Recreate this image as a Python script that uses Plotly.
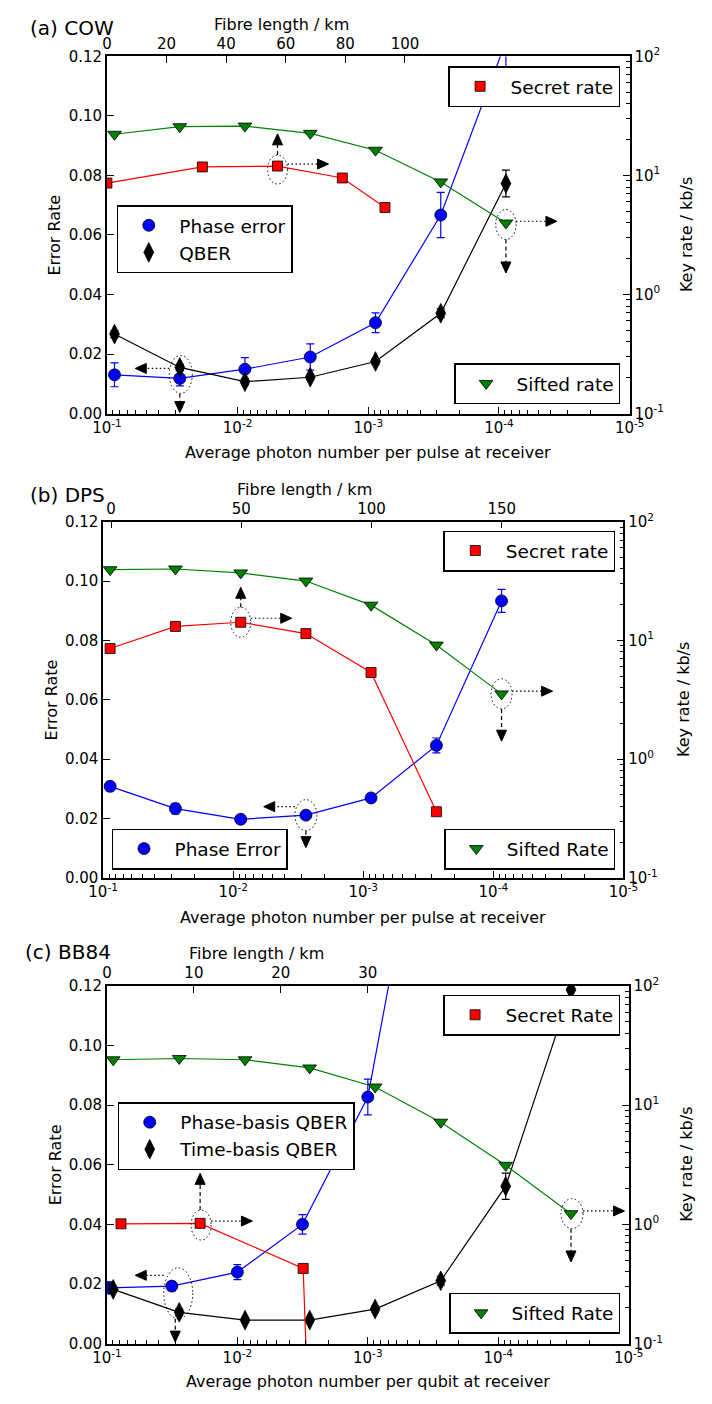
import math
import plotly.graph_objects as go

# page is 712x1404 with the browser's 8px body margin -> figure is 696x1388
PAGE_MARGIN = 8
W, H = 712 - 2 * PAGE_MARGIN, 1404 - 2 * PAGE_MARGIN
FONT = "DejaVu Sans"

# ---------------- data: (a) COW ----------------
cow_mu = [0.0875, 0.0277, 0.00879, 0.00278, 0.000881, 0.000279, 0.0000885]
cow_phase = [0.0130, 0.0118, 0.0149, 0.0190, 0.0305, 0.0667, 0.125]
cow_phase_err = [0.0040, 0.0025, 0.0039, 0.0044, 0.0033, 0.0076, 0.0100]
cow_qber = [0.0267, 0.0155, 0.0107, 0.0122, 0.0175, 0.0337, 0.0773]
cow_qber_err = [0.0012, 0.0010, 0.0010, 0.0010, 0.0010, 0.0015, 0.0045]
cow_sifted = [22.2, 25.7, 26.0, 22.6, 16.3, 8.83, 3.99]
cow_secret_mu = [0.1, 0.0186, 0.00495, 0.00158, 0.000745]
cow_secret = [8.63, 11.8, 12.0, 9.53, 5.38]

# ---------------- data: (b) DPS ----------------
dps_mu = [0.0883, 0.0278, 0.00875, 0.00276, 0.000871, 0.000274, 0.0000865]
dps_phase = [0.0308, 0.0233, 0.0197, 0.0211, 0.0269, 0.0446, 0.0933]
dps_phase_err = [0.0015, 0.0018, 0.0013, 0.0012, 0.0013, 0.0025, 0.0039]
dps_sifted = [39.4, 39.9, 37.0, 31.6, 19.8, 9.12, 3.54]
dps_secret_mu = [0.0883, 0.0278, 0.00875, 0.00276, 0.000871, 0.000274]
dps_secret = [8.53, 13.1, 14.2, 11.4, 5.36, 0.36]

# ---------------- data: (c) BB84 ----------------
bb_phase_mu = [0.0955, 0.0318, 0.0100, 0.00317, 0.00100, 0.000316]
bb_phase = [0.0187, 0.0193, 0.0240, 0.0400, 0.0827, 0.200]
bb_phase_err = [0.0020, 0.0015, 0.0025, 0.0033, 0.0060, 0.0100]
bb_mu = [0.0895, 0.0279, 0.00873, 0.00279, 0.000879, 0.000276, 0.0000877, 0.0000277]
bb_time = [0.0182, 0.0105, 0.0079, 0.0079, 0.0116, 0.0211, 0.0528, 0.1187]
bb_time_err = [0.0010, 0.0012, 0.0008, 0.0008, 0.0010, 0.0015, 0.0044, 0.0050]
bb_sifted = [24.0, 24.6, 24.0, 20.5, 14.2, 7.19, 3.13, 1.23]
bb_secret_mu = [0.078, 0.0193, 0.00313, 0.00257]
bb_secret = [1.01, 1.02, 0.427, 0.001]

# tick labels
x_tickvals = [1e-1, 1e-2, 1e-3, 1e-4, 1e-5]
x_ticktext = ["10<sup>-1</sup>", "10<sup>-2</sup>", "10<sup>-3</sup>", "10<sup>-4</sup>", "10<sup>-5</sup>"]
r_tickvals = [0.1, 1, 10, 100]
r_ticktext = ["10<sup>-1</sup>", "10<sup>0</sup>", "10<sup>1</sup>", "10<sup>2</sup>"]
l_tickvals = [0.0, 0.02, 0.04, 0.06, 0.08, 0.10, 0.12]
l_ticktext = ["0.00", "0.02", "0.04", "0.06", "0.08", "0.10", "0.12"]
x_minor = [k * 10.0 ** n for n in range(-5, -1) for k in range(2, 10)]
r_minor = [k * 10.0 ** n for n in range(-1, 2) for k in range(2, 10)]

X_LOG_RANGE = [-1, -5]     # bottom axis (log10 of photon number), reversed
R_LOG_RANGE = [-1, 2]      # right axis (log10 kb/s)
L_RANGE = [0, 0.12]        # left axis


def PX(x):  # page px -> paper fraction
    return (x - PAGE_MARGIN) / W


def PY(y):
    return 1 - (y - PAGE_MARGIN) / H


panels = [
    dict(box=(95.7, 642.0, 46.0, 408.3), km_range=[0, 175.4], km_ticks=[0, 20, 40, 60, 80, 100],
         title="(a) COW", title_pos=(13.6, 17), km_title_pos=(278, 14),
         xlabel="Average photon number per pulse at receiver", xlabel_y=448,
         ylabel_x=41, rlabel_x=702),
    dict(box=(91.7, 635.5, 518.0, 879.3), km_range=[-3.05, 196.7], km_ticks=[0, 50, 100, 150],
         title="(b) DPS", title_pos=(13.6, 491), km_title_pos=(302, 485),
         xlabel="Average photon number per pulse at receiver", xlabel_y=920,
         ylabel_x=38, rlabel_x=698),
    dict(box=(95.7, 641.0, 989.0, 1352.0), km_range=[0, 60.0], km_ticks=[0, 10, 20, 30],
         title="(c) BB84", title_pos=(8, 955), km_title_pos=(252, 956),
         xlabel="Average photon number per qubit at receiver", xlabel_y=1390,
         ylabel_x=42, rlabel_x=702),
]


def names(i):
    b = "x" if i == 0 else f"x{2 * i + 1}"
    t = f"x{2 * i + 2}"
    l = "y" if i == 0 else f"y{2 * i + 1}"
    r = f"y{2 * i + 2}"
    return b, t, l, r


def lay(n):
    return n[0] + "axis" + n[1:]


fig = go.Figure()
layout = dict(width=W, height=H, margin=dict(l=0, r=0, t=0, b=0), autosize=False,
              paper_bgcolor="white", plot_bgcolor="white", showlegend=True,
              font=dict(family=FONT, color="black"))

common = dict(showline=True, linecolor="black", linewidth=1.5, ticks="inside", ticklen=7,
              tickwidth=1, tickcolor="black", showgrid=False, zeroline=False,
              tickfont=dict(family=FONT, size=15, color="black"))
minor_style = dict(tickmode="array", ticks="inside", ticklen=4, tickwidth=1, tickcolor="black", showgrid=False)

annotations = []
shapes = []

for i, p in enumerate(panels):
    b, t, l, r = names(i)
    x0, x1, y0, y1 = p["box"]
    layout[lay(b)] = dict(common, domain=[PX(x0), PX(x1)], anchor=l, type="log", range=X_LOG_RANGE,
                          tickmode="array", tickvals=x_tickvals, ticktext=x_ticktext,
                          minor=dict(minor_style, tickvals=x_minor))
    layout[lay(t)] = dict(common, overlaying=b, side="top", anchor=l, range=p["km_range"],
                          tickmode="array", tickvals=p["km_ticks"])
    layout[lay(l)] = dict(common, domain=[PY(y1), PY(y0)], anchor=b, range=L_RANGE,
                          tickmode="array", tickvals=l_tickvals, ticktext=l_ticktext)
    layout[lay(r)] = dict(common, overlaying=l, side="right", anchor=b, type="log", range=R_LOG_RANGE,
                          tickmode="array", tickvals=r_tickvals, ticktext=r_ticktext,
                          minor=dict(minor_style, tickvals=r_minor))
    fig.add_trace(go.Scatter(x=[None], y=[None], xaxis=t, yaxis=l, showlegend=False, hoverinfo="skip"))
    annotations += [
        dict(text=p["title"], x=PX(p["title_pos"][0]), y=PY(p["title_pos"][1]), xanchor="left",
             yanchor="middle", font=dict(size=20, family=FONT)),
        dict(text="Fibre length / km", x=PX(p["km_title_pos"][0]), y=PY(p["km_title_pos"][1]),
             xanchor="center", yanchor="middle", font=dict(size=16, family=FONT)),
        dict(text=p["xlabel"], x=PX((x0 + x1) / 2), y=PY(p["xlabel_y"]), xanchor="center",
             yanchor="middle", font=dict(size=16, family=FONT)),
        dict(text="Error Rate", x=PX(p["ylabel_x"]), y=PY((y0 + y1) / 2), xanchor="center",
             yanchor="middle", textangle=-90, font=dict(size=16, family=FONT)),
        dict(text="Key rate / kb/s", x=PX(p["rlabel_x"]), y=PY((y0 + y1) / 2), xanchor="center",
             yanchor="middle", textangle=-90, font=dict(size=16, family=FONT)),
    ]

for a in annotations:
    a.update(xref="paper", yref="paper", showarrow=False)


def err_series(xs, ys, err, xa, ya, color, symbol, size, name, legend):
    fig.add_trace(go.Scatter(x=xs, y=ys, mode="lines", line=dict(color=color, width=1.2),
                             xaxis=xa, yaxis=ya, showlegend=False, hoverinfo="skip"))
    fig.add_trace(go.Scatter(x=xs, y=ys, mode="markers", name=name, legend=legend,
                             marker=dict(symbol=symbol, size=size, color=color,
                                         line=dict(color="black", width=0.8)),
                             error_y=dict(type="data", array=err, color=color, thickness=1.2, width=4),
                             xaxis=xa, yaxis=ya))


def rate_series(xs, ys, xa, ya, color, symbol, size, name, legend):
    fig.add_trace(go.Scatter(x=xs, y=ys, mode="lines", line=dict(color=color, width=1.2),
                             xaxis=xa, yaxis=ya, showlegend=False, hoverinfo="skip"))
    fig.add_trace(go.Scatter(x=xs, y=ys, mode="markers", name=name, legend=legend,
                             marker=dict(symbol=symbol, size=size, color=color,
                                         line=dict(color="black", width=0.8)),
                             xaxis=xa, yaxis=ya))


BLUE, BLACK, RED, GREEN = "#0000ff", "#000000", "#ff0000", "#008000"

b, t, l, r = names(0)
err_series(cow_mu, cow_phase, cow_phase_err, b, l, BLUE, "circle", 12, "Phase error", "legend2")
err_series(cow_mu, cow_qber, cow_qber_err, b, l, BLACK, "diamond-tall", 14, "QBER", "legend2")
rate_series(cow_secret_mu, cow_secret, b, r, RED, "square", 10, "Secret rate", "legend")
rate_series(cow_mu, cow_sifted, b, r, GREEN, "triangle-down", 12, "Sifted rate", "legend3")

b, t, l, r = names(1)
err_series(dps_mu, dps_phase, dps_phase_err, b, l, BLUE, "circle", 12, "Phase Error", "legend5")
rate_series(dps_secret_mu, dps_secret, b, r, RED, "square", 10, "Secret rate", "legend4")
rate_series(dps_mu, dps_sifted, b, r, GREEN, "triangle-down", 12, "Sifted Rate", "legend6")

b, t, l, r = names(2)
err_series(bb_phase_mu, bb_phase, bb_phase_err, b, l, BLUE, "circle", 12, "Phase-basis QBER", "legend8")
err_series(bb_mu, bb_time, bb_time_err, b, l, BLACK, "diamond-tall", 14, "Time-basis QBER", "legend8")
rate_series(bb_secret_mu, bb_secret, b, r, RED, "square", 10, "Secret Rate", "legend7")
rate_series(bb_mu, bb_sifted, b, r, GREEN, "triangle-down", 12, "Sifted Rate", "legend9")

legend_pos = {
    "legend": (632, 56, "right", "top"),
    "legend2": (106, 197, "left", "top"),
    "legend3": (632, 399, "right", "bottom"),
    "legend4": (627, 527, "right", "top"),
    "legend5": (101, 871, "left", "bottom"),
    "legend6": (627, 871, "right", "bottom"),
    "legend7": (632, 998, "right", "top"),
    "legend8": (107, 1107, "left", "top"),
    "legend9": (632, 1342, "right", "bottom"),
}
for key, (px, py, xa, ya) in legend_pos.items():
    layout[key] = dict(x=PX(px), y=PY(py), xanchor=xa, yanchor=ya, xref="paper", yref="paper",
                       bgcolor="white", bordercolor="black", borderwidth=1.5, itemwidth=51,
                       font=dict(family=FONT, size=18.5, color="black"), tracegroupgap=0)

# ---------------- highlight marks (ellipse + arrows), offsets in screen px (down = +) ----------------
DOT, DASH = "1.5px,2.5px", "4px,3px"
marks = [
    (0, cow_mu[1], cow_qber[1], "l", (1, 7, 11.5, 19),
     [((-10.5, 1), (-44.5, 1), DOT), ((0, 26.3), (0, 45.2), DASH)]),
    (0, cow_secret_mu[2], cow_secret[2], "r", (0, 3.5, 10, 14.5),
     [((0, -11), (0, -32.2), DASH), ((10, -2), (51, -2), DOT)]),
    (0, cow_mu[6], cow_sifted[6], "r", (0, 1.5, 10.2, 15),
     [((10, -1.7), (51, -1.7), DOT), ((0, 16.5), (0, 50), DASH)]),
    (1, dps_secret_mu[2], dps_secret[2], "r", (0, 0, 10, 15),
     [((0, -15), (0, -35), DASH), ((10, -4), (51, -4), DOT)]),
    (1, dps_mu[6], dps_sifted[6], "r", (0, 0, 10.5, 15),
     [((10.5, -2.7), (51, -2.7), DOT), ((0, 15), (0, 47.3), DASH)]),
    (1, dps_mu[3], dps_phase[3], "l", (0, 0, 11, 15.5),
     [((-11, -8.5), (-42.2, -8.5), DOT), ((0, 15.5), (0, 32.5), DASH)]),
    (2, bb_mu[1], bb_time[1], "l", (-1, -19, 14.5, 25.5),
     [((-15.5, -37), (-44, -37), DOT), ((-4, 6.5), (-4, 29.8), DASH)]),
    (2, bb_secret_mu[1], bb_secret[1], "r", (1, 1.7, 10, 15),
     [((0, -13.3), (0, -50), DASH), ((11, -2.3), (52.3, -2.3), DOT)]),
    (2, bb_mu[7], bb_sifted[7], "r", (1, 0, 11, 15),
     [((12, -2.7), (53.5, -2.7), DOT), ((0, 15), (0, 48.3), DASH)]),
]


def to_linear(pi, mu, val, which):
    """Map a data point onto the panel's linear overlay axes (top km axis, left axis)."""
    km0, km1 = panels[pi]["km_range"]
    fx = (math.log10(mu) - X_LOG_RANGE[0]) / (X_LOG_RANGE[1] - X_LOG_RANGE[0])
    xk = km0 + fx * (km1 - km0)
    if which == "l":
        yl = val
    else:
        fy = (math.log10(val) - R_LOG_RANGE[0]) / (R_LOG_RANGE[1] - R_LOG_RANGE[0])
        yl = L_RANGE[0] + fy * (L_RANGE[1] - L_RANGE[0])
    return xk, yl


for pi, mu, val, which, (dx, dy, hw, hh), arrows in marks:
    b, t, l, r = names(pi)
    axv, ayv = to_linear(pi, mu, val, which)
    base = dict(xref=t, yref=l, xsizemode="pixel", ysizemode="pixel", xanchor=axv, yanchor=ayv)
    shapes.append(dict(base, type="circle", x0=dx - hw, x1=dx + hw, y0=-(dy + hh), y1=-(dy - hh),
                       line=dict(color="black", width=1, dash=DOT)))
    for (sx, sy), (tx, ty), dash in arrows:
        L = math.hypot(tx - sx, ty - sy)
        ux, uy = (tx - sx) / L, (ty - sy) / L
        hl, hwid = 11, 5
        bx, by = tx - ux * hl, ty - uy * hl
        nx, ny = -uy, ux
        shapes.append(dict(base, type="line", x0=sx, x1=bx, y0=-sy, y1=-by,
                           line=dict(color="black", width=1.2, dash=dash)))
        path = (f"M {tx:.2f} {-ty:.2f} L {bx + nx * hwid:.2f} {-(by + ny * hwid):.2f} "
                f"L {bx - nx * hwid:.2f} {-(by - ny * hwid):.2f} Z")
        shapes.append(dict(base, type="path", path=path, fillcolor="black",
                           line=dict(color="black", width=1)))

layout["annotations"] = annotations
layout["shapes"] = shapes
fig.update_layout(**layout)

fig.write_html("out.html", config={"displayModeBar": False})
